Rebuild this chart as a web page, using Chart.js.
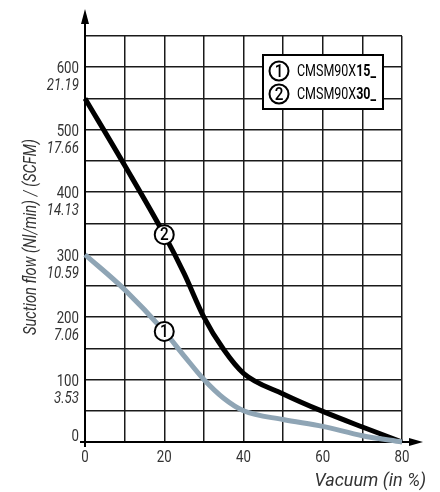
<!DOCTYPE html>
<html>
<head>
<meta charset="utf-8">
<script src="https://cdn.jsdelivr.net/npm/chart.js@4.4.1/dist/chart.umd.min.js"></script>
<style>
  html, body { margin: 0; padding: 0; background: #fff; }
  canvas { display: block; }
</style>
</head>
<body>
<canvas id="chart" width="440" height="492"></canvas>
<script>
// vacuum in %, suction flow in Nl/min
const vacuum = [0, 10, 20, 25, 30, 35, 40, 50, 60, 70, 80];
const flow15 = [300, 244, 177, 138, 100, 70, 50, 36, 25, 10, 0];
const flow30 = [550, 443, 332, 270, 200, 148, 110, 77, 49, 24, 0];

const yTicks = [0, 100, 200, 300, 400, 500, 600];
const scfmTicks = ["", "3.53", "7.06", "10.59", "14.13", "17.66", "21.19"];
const xTicks = [0, 20, 40, 60, 80];

const seriesNums = ["1", "2"];
const modelBase = "CMSM90X";
const modelSuffix = ["15_", "30_"];
const labelIndex = 2; // circled numbers sit on the point at 20 %

const FONT = "Roboto, 'Liberation Sans', sans-serif";
const SQUEEZE = 0.78; // the original uses a condensed face
const TICK_COLOR = "#333";

// draw text squeezed horizontally, align is applied on the squeezed width
function narrowText(ctx, txt, x, y, align, sq) {
  const k = sq || SQUEEZE;
  const w = ctx.measureText(txt).width * k;
  let left = x;
  if (align === "right") left = x - w;
  else if (align === "center") left = x - w / 2;
  ctx.save();
  ctx.textAlign = "left";
  ctx.translate(left, y);
  ctx.scale(k, 1);
  ctx.fillText(txt, 0, 0);
  ctx.restore();
  return w;
}

function circleNum(ctx, cx, cy, txt) {
  ctx.beginPath();
  ctx.arc(cx, cy, 9.5, 0, Math.PI * 2);
  ctx.fillStyle = "#fff";
  ctx.fill();
  ctx.lineWidth = 2;
  ctx.strokeStyle = "#000";
  ctx.stroke();
  ctx.fillStyle = "#000";
  ctx.font = "500 18px " + FONT;
  ctx.textBaseline = "middle";
  narrowText(ctx, txt, cx, cy + 1, "center", 0.85);
}

const overlay = {
  id: "overlay",
  afterDraw(chart) {
    const { ctx, chartArea: a, scales } = chart;
    const x = scales.x, y = scales.y;
    ctx.save();

    // axis extensions with arrows
    ctx.strokeStyle = "#000";
    ctx.fillStyle = "#000";
    ctx.lineWidth = 2;
    ctx.beginPath();
    ctx.moveTo(a.left, a.top);
    ctx.lineTo(a.left, 20);
    ctx.moveTo(a.right, a.bottom);
    ctx.lineTo(a.right + 10, a.bottom);
    // small ticks at origin
    ctx.moveTo(a.left - 5, a.bottom);
    ctx.lineTo(a.left, a.bottom);
    ctx.moveTo(a.left, a.bottom);
    ctx.lineTo(a.left, a.bottom + 5);
    ctx.stroke();
    ctx.beginPath();
    ctx.moveTo(a.left, 9);
    ctx.lineTo(a.left - 4, 24);
    ctx.lineTo(a.left + 4, 24);
    ctx.closePath();
    ctx.fill();
    ctx.beginPath();
    ctx.moveTo(a.right + 21, a.bottom);
    ctx.lineTo(a.right + 7, a.bottom - 4);
    ctx.lineTo(a.right + 7, a.bottom + 4);
    ctx.closePath();
    ctx.fill();

    // y tick labels (Nl/min + SCFM)
    ctx.textBaseline = "middle";
    ctx.fillStyle = TICK_COLOR;
    yTicks.forEach((v, i) => {
      const py = y.getPixelForValue(v);
      ctx.font = "17px " + FONT;
      if (v === 0) {
        narrowText(ctx, String(v), a.left - 6, py - 5, "right");
        return;
      }
      narrowText(ctx, String(v), a.left - 6, py + 2, "right");
      ctx.font = "italic 17px " + FONT;
      narrowText(ctx, scfmTicks[i], a.left - 6, py + 19, "right");
    });

    // x tick labels
    ctx.font = "17px " + FONT;
    xTicks.forEach(v => {
      narrowText(ctx, String(v), x.getPixelForValue(v), a.bottom + 16, "center");
    });

    // axis titles
    ctx.font = "italic 18px " + FONT;
    narrowText(ctx, "Vacuum (in %)", a.right + 24, a.bottom + 39, "right", 1.0);
    ctx.save();
    ctx.translate(31, 237);
    ctx.rotate(-Math.PI / 2);
    narrowText(ctx, "Suction flow (Nl/min) / (SCFM)", 0, 0, "center", 0.815);
    ctx.restore();

    // circled labels on the curves
    const px = x.getPixelForValue(vacuum[labelIndex]);
    circleNum(ctx, px, y.getPixelForValue(flow30[labelIndex]), seriesNums[1]);
    circleNum(ctx, px, y.getPixelForValue(flow15[labelIndex]), seriesNums[0]);

    // legend box
    const bx = a.right - 139, by = a.top + 19, bw = 120, bh = 54;
    ctx.fillStyle = "#fff";
    ctx.fillRect(bx, by, bw, bh);
    ctx.lineWidth = 2;
    ctx.strokeStyle = "#000";
    ctx.strokeRect(bx, by, bw, bh);
    seriesNums.forEach((n, i) => {
      const cy = by + 16 + i * 23;
      circleNum(ctx, bx + 16, cy, n);
      ctx.textBaseline = "middle";
      ctx.fillStyle = "#000";
      ctx.font = "16px " + FONT;
      const w = narrowText(ctx, modelBase, bx + 34, cy + 1, "left");
      ctx.font = "bold 16px " + FONT;
      narrowText(ctx, modelSuffix[i], bx + 34 + w, cy + 1, "left");
    });

    ctx.restore();
  }
};

new Chart(document.getElementById("chart"), {
  type: "line",
  data: {
    labels: vacuum,
    datasets: [
      {
        label: modelBase + modelSuffix[0],
        data: vacuum.map((v, i) => ({ x: v, y: flow15[i] })),
        borderColor: "#8fa5b5",
        borderWidth: 5,
        pointRadius: 0,
        cubicInterpolationMode: "monotone",
        clip: false
      },
      {
        label: modelBase + modelSuffix[1],
        data: vacuum.map((v, i) => ({ x: v, y: flow30[i] })),
        borderColor: "#000",
        borderWidth: 5,
        pointRadius: 0,
        cubicInterpolationMode: "monotone",
        clip: false
      }
    ]
  },
  options: {
    responsive: false,
    animation: false,
    layout: { padding: { left: 85, right: 38, top: 36, bottom: 50 } },
    plugins: {
      legend: { display: false },
      tooltip: { enabled: false }
    },
    scales: {
      x: {
        type: "linear",
        min: 0,
        max: 80,
        ticks: { display: false, stepSize: 10 },
        grid: { color: "#1a1a1a", lineWidth: 1.5, drawTicks: false },
        border: { color: "#000", width: 2 }
      },
      y: {
        min: 0,
        max: 650,
        ticks: { display: false, stepSize: 50 },
        grid: { color: "#1a1a1a", lineWidth: 1.5, drawTicks: false },
        border: { color: "#000", width: 2 }
      }
    }
  },
  plugins: [overlay]
});
</script>
</body>
</html>
